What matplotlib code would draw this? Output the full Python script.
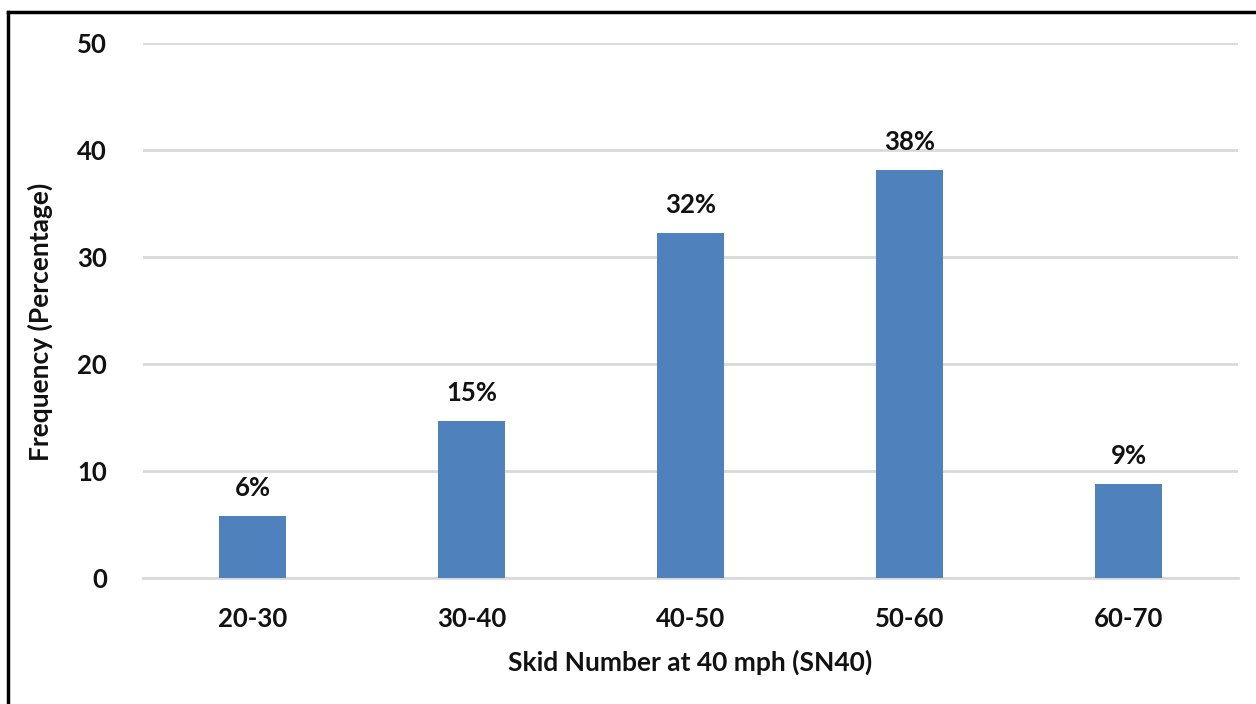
import matplotlib
matplotlib.use("Agg")
import matplotlib.pyplot as plt
from matplotlib.lines import Line2D

categories = ["20-30", "30-40", "40-50", "50-60", "60-70"]
values = [5.8, 14.7, 32.2, 38.1, 8.8]
labels = ["6%", "15%", "32%", "38%", "9%"]
yticks = [0, 10, 20, 30, 40, 50]

plt.rcParams['font.family'] = ['Lato', 'DejaVu Sans']
plt.rcParams['font.weight'] = 'bold'

FS = 18.5
TXT = "#111111"

fig = plt.figure(figsize=(12.56, 7.04), dpi=100)
ax = fig.add_axes([143/1256, 1-578/704, (1238-143)/1256, (578-43)/704])

x = list(range(len(categories)))
ax.bar(x, values, width=0.31, color="#4F81BD", zorder=3)
for xi, v, lab in zip(x, values, labels):
    ax.text(xi, v + 1.5, lab, ha="center", va="bottom", fontsize=FS, fontweight="bold", color=TXT)

ax.set_xlim(-0.5, len(categories) - 0.5)
ax.set_ylim(0, 50)
ax.set_yticks(yticks)
ax.set_yticklabels([str(t) for t in yticks], fontsize=FS, fontweight="bold", color=TXT)
ax.set_xticks(x)
ax.set_xticklabels(categories, fontsize=FS, fontweight="bold", color=TXT)
ax.tick_params(axis="both", length=0)
ax.tick_params(axis="y", pad=26)
ax.tick_params(axis="x", pad=21)
ax.grid(axis="y", color="#D9D9D9", linewidth=2, zorder=0)
for s in ["top", "right", "left"]:
    ax.spines[s].set_visible(False)
ax.spines["bottom"].set_color("#D9D9D9")
ax.spines["bottom"].set_linewidth(2)

ax.set_xlabel("Skid Number at 40 mph (SN40)", fontsize=FS + 0.5, fontweight="bold", color=TXT, labelpad=13)
fig.text(40/1256, 1-322/704, "Frequency (Percentage)", rotation=90, ha="center", va="center",
         fontsize=FS + 0.5, fontweight="bold", color=TXT)

fig.add_artist(Line2D([8/1256, 1], [1-12/704, 1-12/704], transform=fig.transFigure, color="black", linewidth=2.5))
fig.add_artist(Line2D([8/1256, 8/1256], [0, 1-12/704], transform=fig.transFigure, color="black", linewidth=2.5))

fig.savefig("out.png", dpi=100, facecolor="white")
